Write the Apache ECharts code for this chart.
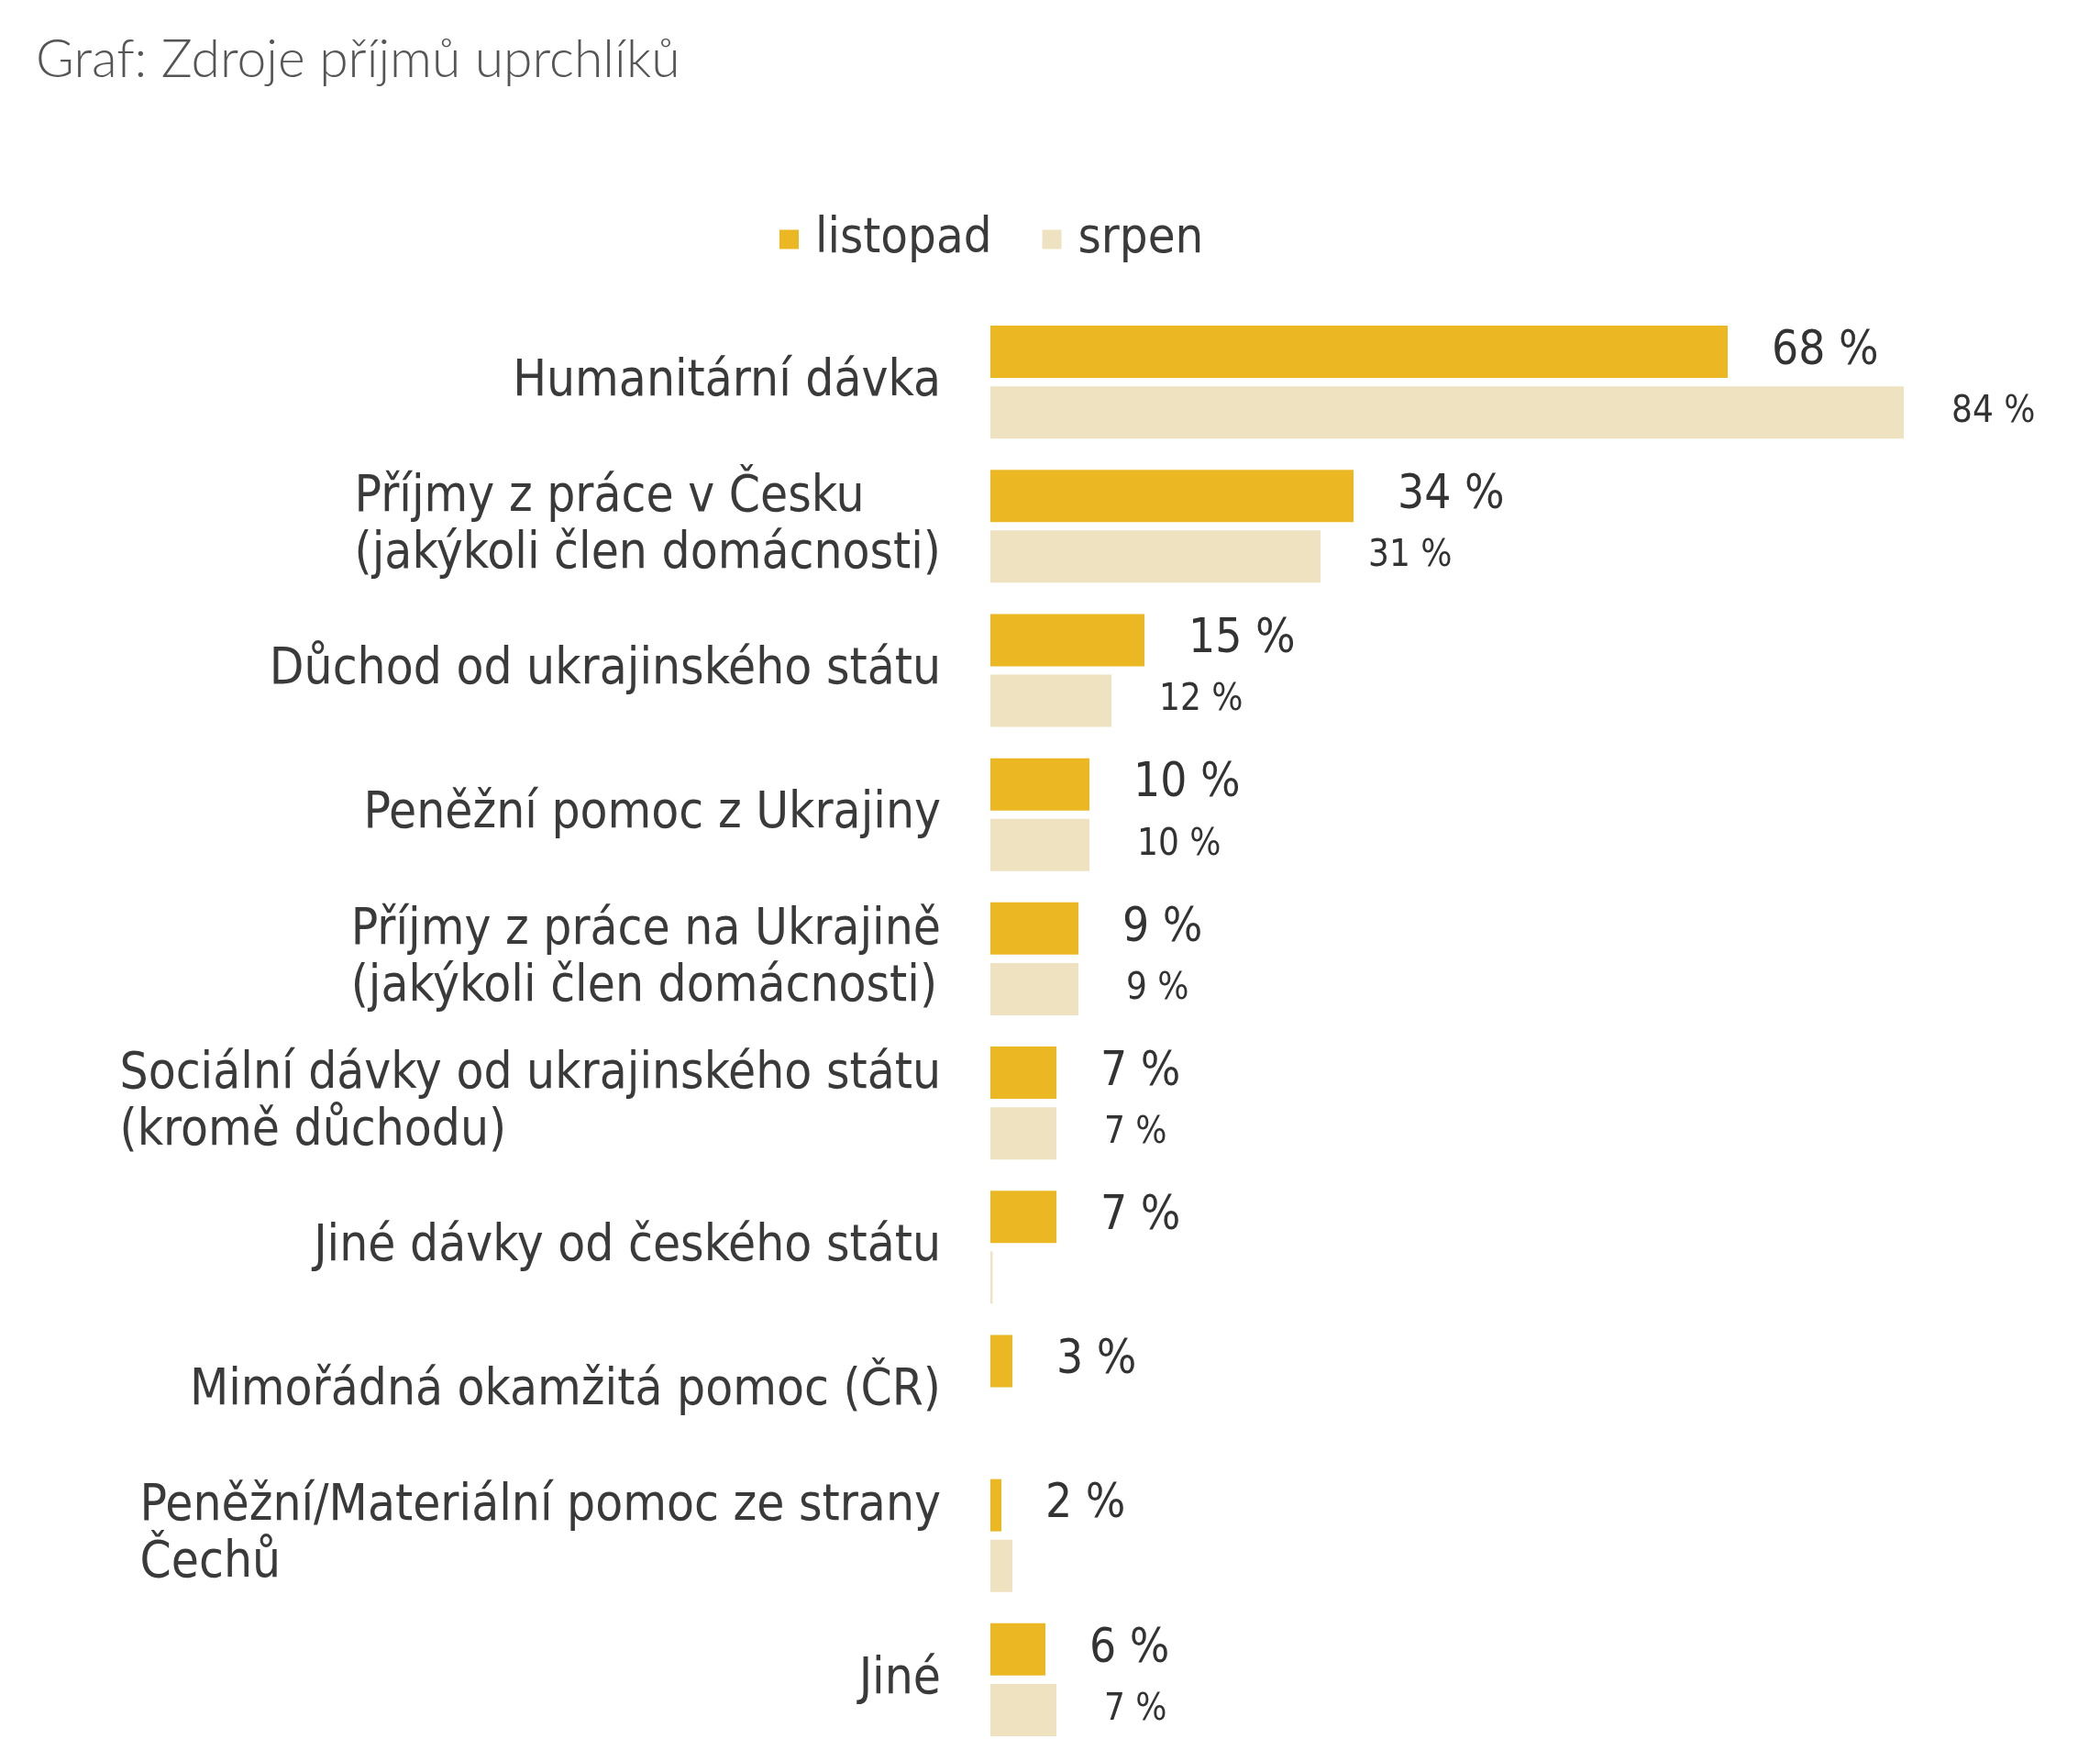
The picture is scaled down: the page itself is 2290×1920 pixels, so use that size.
<!DOCTYPE html>
<html lang="cs">
<head>
    <meta charset="UTF-8">
    <title>Graf: Zdroje příjmů uprchlíků</title>
    <script src="https://cdn.jsdelivr.net/npm/echarts@6/dist/echarts.min.js"></script>
    <style>
        * { margin: 0; padding: 0; box-sizing: border-box; }
        body { background: #fff; }
        #chart { width: 2290px; height: 1920px; }
    </style>
</head>
<body>
    <div id="chart"></div>
    <script>
        // data
        const categories = [
            'Humanitární dávka',
            'Příjmy z práce v Česku\n(jakýkoli člen domácnosti)',
            'Důchod od ukrajinského státu',
            'Peněžní pomoc z Ukrajiny',
            'Příjmy z práce na Ukrajině\n(jakýkoli člen domácnosti)',
            'Sociální dávky od ukrajinského státu\n(kromě důchodu)',
            'Jiné dávky od českého státu',
            'Mimořádná okamžitá pomoc (ČR)',
            'Peněžní/Materiální pomoc ze strany\nČechů',
            'Jiné'
        ];
        const listopad = [68, 34, 15, 10, 9, 7, 7, 3, 2, 6];
        const srpen = [84, 31, 12, 10, 9, 7, 1.2, '-', 3, 7];
        const srpenLabels = ['84 %', '31 %', '12 %', '10 %', '9 %', '7 %', '', '', '', '7 %'];

        const FONT = '"DejaVu Sans Condensed", "DejaVu Sans", sans-serif';
        const chart = echarts.init(document.getElementById('chart'));

        chart.setOption({
            backgroundColor: '#fff',
            animation: false,
            title: {
                text: 'Graf: Zdroje příjmů uprchlíků',
                left: 34,
                top: 32,
                textStyle: {
                    fontFamily: 'Lato, sans-serif',
                    fontWeight: 300,
                    fontSize: 57,
                    color: '#555'
                }
            },
            legend: {
                left: 845,
                top: 229,
                itemWidth: 21,
                itemHeight: 21,
                itemGap: 55,
                icon: 'rect',
                textStyle: {
                    fontFamily: FONT,
                    fontSize: 54,
                    color: '#3a3a3a',
                    padding: [0, 0, 0, 13]
                },
                data: ['listopad', 'srpen']
            },
            grid: {
                left: 1080,
                right: 22,
                top: 338,
                height: 1572
            },
            xAxis: {
                type: 'value',
                min: 1,
                max: 100,
                show: false
            },
            yAxis: {
                type: 'category',
                inverse: true,
                data: categories,
                axisLine: { show: false },
                axisTick: { show: false },
                splitLine: { show: false },
                axisLabel: {
                    margin: 54,
                    formatter: function (v) {
                        return v.split('\n').map(function (s) { return '{l|' + s + '}'; }).join('\n');
                    },
                    rich: {
                        l: {
                            align: 'left',
                            fontFamily: FONT,
                            fontSize: 54.5,
                            lineHeight: 62,
                            color: '#3a3a3a'
                        }
                    }
                }
            },
            series: [
                {
                    name: 'listopad',
                    type: 'bar',
                    data: listopad,
                    barWidth: 57,
                    barGap: '16%',
                    itemStyle: { color: '#EBB823' },
                    label: {
                        show: true,
                        position: 'right',
                        distance: 48,
                        formatter: '{c} %',
                        fontFamily: FONT,
                        fontSize: 51,
                        color: '#333'
                    }
                },
                {
                    name: 'srpen',
                    type: 'bar',
                    data: srpen,
                    barWidth: 57,
                    itemStyle: { color: '#EFE2C0' },
                    label: {
                        show: true,
                        position: 'right',
                        distance: 52,
                        formatter: function (p) { return srpenLabels[p.dataIndex]; },
                        fontFamily: FONT,
                        fontSize: 40,
                        color: '#333'
                    }
                }
            ]
        });
    </script>
</body>
</html>
